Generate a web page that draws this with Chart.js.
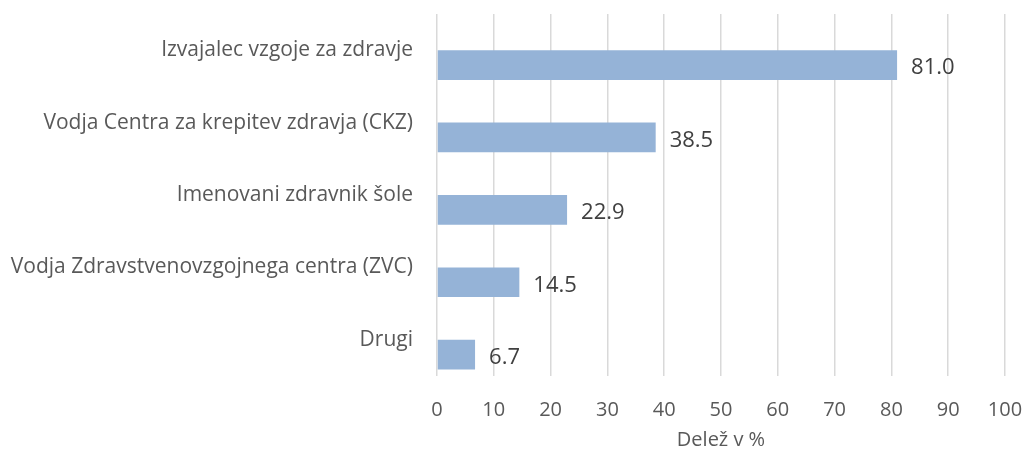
<!DOCTYPE html>
<html>
<head>
<meta charset="utf-8">
<script src="https://cdn.jsdelivr.net/npm/chart.js@4/dist/chart.umd.min.js"></script>
<style>
  html, body { margin: 0; padding: 0; background: #fff; }
  #wrap { width: 1022px; height: 452px; }
</style>
</head>
<body>
<div id="wrap"><canvas id="grafico" width="1022" height="452"></canvas></div>
<script>
// Datos del gráfico
const kategorije = [
    'Izvajalec vzgoje za zdravje',
    'Vodja Centra za krepitev zdravja (CKZ)',
    'Imenovani zdravnik šole',
    'Vodja Zdravstvenovzgojnega centra (ZVC)',
    'Drugi'
];
const delezi = [81.0, 38.5, 22.9, 14.5, 6.7];
const xTicks = [0, 10, 20, 30, 40, 50, 60, 70, 80, 90, 100];
const naslovX = 'Delež v %';

const sivaBesedila = '#595959';
const pisava = "'Open Sans', 'Noto Sans', sans-serif";

// Oznake vrednosti desno od stolpcev
const oznakeVrednosti = {
    id: 'oznakeVrednosti',
    afterDatasetsDraw(chart) {
        const ctx = chart.ctx;
        const meta = chart.getDatasetMeta(1);
        ctx.save();
        ctx.font = '22px ' + pisava;
        ctx.fillStyle = '#404040';
        ctx.textAlign = 'left';
        ctx.textBaseline = 'middle';
        meta.data.forEach((bar, i) => {
            ctx.fillText(delezi[i].toFixed(1), bar.x + 14, bar.y + 3);
        });
        ctx.restore();
    }
};

const ctx = document.getElementById('grafico').getContext('2d');
new Chart(ctx, {
    type: 'bar',
    data: {
        labels: kategorije,
        datasets: [
            { label: '', data: [] }, // prazna serija (zamik stolpcev kot v izvirniku)
            {
                label: 'Delež',
                data: delezi,
                backgroundColor: '#95B3D7',
                borderWidth: 0,
                categoryPercentage: 0.82,
                barPercentage: 1
            }
        ]
    },
    options: {
        indexAxis: 'y',
        responsive: false,
        animation: false,
        layout: { padding: { left: 0, right: 17, top: 14, bottom: 0 } },
        plugins: {
            legend: { display: false },
            tooltip: { enabled: false }
        },
        scales: {
            x: {
                min: 0,
                max: 100,
                afterBuildTicks: scale => { scale.ticks = xTicks.map(v => ({ value: v })); },
                afterFit: scale => {
                    scale.height = 76;
                    scale.paddingLeft = 0;
                    scale.paddingRight = 0;
                },
                grid: { color: '#D9D9D9', lineWidth: 1.5, drawTicks: false },
                border: { display: false },
                ticks: {
                    color: sivaBesedila,
                    padding: 22,
                    font: { family: pisava, size: 20 }
                },
                title: {
                    display: true,
                    text: naslovX,
                    color: sivaBesedila,
                    padding: { top: 4, bottom: 0 },
                    font: { family: pisava, size: 20 }
                }
            },
            y: {
                afterFit: scale => {
                    scale.width = 437;
                    scale.paddingTop = 0;
                    scale.paddingBottom = 0;
                },
                grid: { display: false },
                border: { display: false },
                ticks: {
                    color: sivaBesedila,
                    padding: 16,
                    font: { family: pisava, size: 21 }
                }
            }
        }
    },
    plugins: [oznakeVrednosti]
});
</script>
</body>
</html>
